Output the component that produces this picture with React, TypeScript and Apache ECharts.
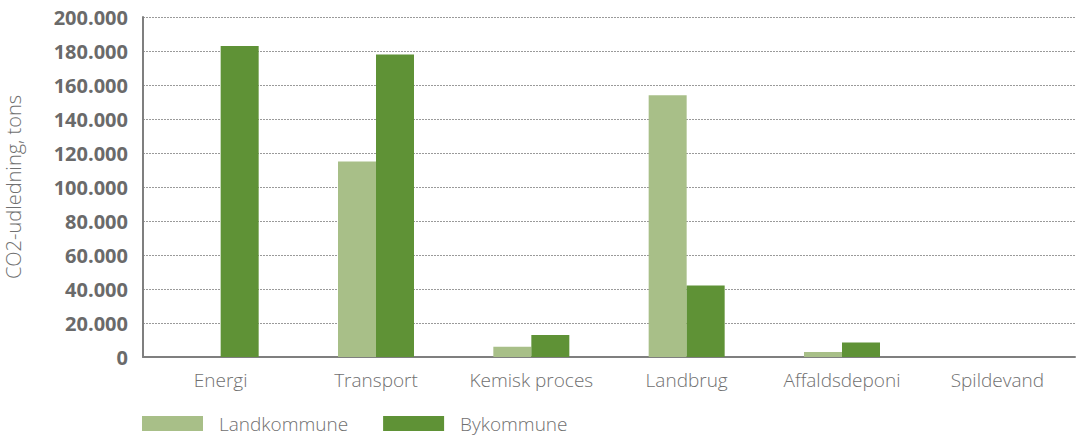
import React, { useEffect, useRef } from "react";
import * as echarts from "echarts";

const categories = ["Energi", "Transport", "Kemisk proces", "Landbrug", "Affaldsdeponi", "Spildevand"];
const landkommune = [0, 115000, 6000, 154000, 3000, 0];
const bykommune = [183000, 178000, 13000, 42000, 8500, 0];
const yTicks = { min: 0, max: 200000, interval: 20000 };

const fmt = (v: number) => (v === 0 ? "0" : v.toLocaleString("da-DK").replace(/,/g, "."));

export default function App() {
  const ref = useRef<HTMLDivElement>(null);
  useEffect(() => {
    document.body.style.margin = "0";
    const chart = echarts.init(ref.current!, undefined, { renderer: "svg" });
    chart.setOption({
      animation: false,
      textStyle: { fontFamily: "Open Sans" },
      grid: { left: 143, right: 1, top: 17, bottom: 80, containLabel: false, outerBoundsMode: "none" },
      legend: {
        left: 142,
        bottom: 4,
        padding: 0,
        itemWidth: 61,
        itemHeight: 15,
        itemGap: 35,
        icon: "rect",
        textStyle: { fontSize: 19, color: "#707070", padding: [0, 0, 0, 11], fontFamily: "Open Sans", fontWeight: 300 },
        data: ["Landkommune", "Bykommune"],
      },
      xAxis: {
        type: "category",
        data: categories,
        axisLine: { lineStyle: { color: "#7f7f7f", width: 2 } },
        axisTick: { show: false },
        axisLabel: { color: "#707070", fontSize: 19, margin: 13, fontWeight: 300, interval: 0 },
      },
      yAxis: {
        type: "value",
        min: yTicks.min,
        max: yTicks.max,
        interval: yTicks.interval,
        name: "CO2-udledning, tons",
        nameLocation: "middle",
        nameGap: 120,
        nameTextStyle: { color: "#707070", fontSize: 20, fontWeight: 300 },
        axisLine: { show: true, lineStyle: { color: "#7f7f7f", width: 2 } },
        axisTick: { show: false },
        axisLabel: {
          color: "#6a6a6a",
          fontSize: 20,
          fontWeight: "bold",
          margin: 15,
          formatter: (v: number) => fmt(v),
        },
        splitLine: { lineStyle: { color: "#9a9a9a", type: [2, 1], width: 1 } },
      },
      series: [
        {
          name: "Landkommune",
          type: "bar",
          data: landkommune,
          barWidth: 38,
          barGap: "0%",
          itemStyle: { color: "#a8bf88" },
        },
        {
          name: "Bykommune",
          type: "bar",
          data: bykommune,
          barWidth: 38,
          barGap: "0%",
          itemStyle: { color: "#5f9236" },
        },
      ],
    });
    return () => chart.dispose();
  }, []);
  return <div ref={ref} style={{ width: 1076, height: 437 }} />;
}
